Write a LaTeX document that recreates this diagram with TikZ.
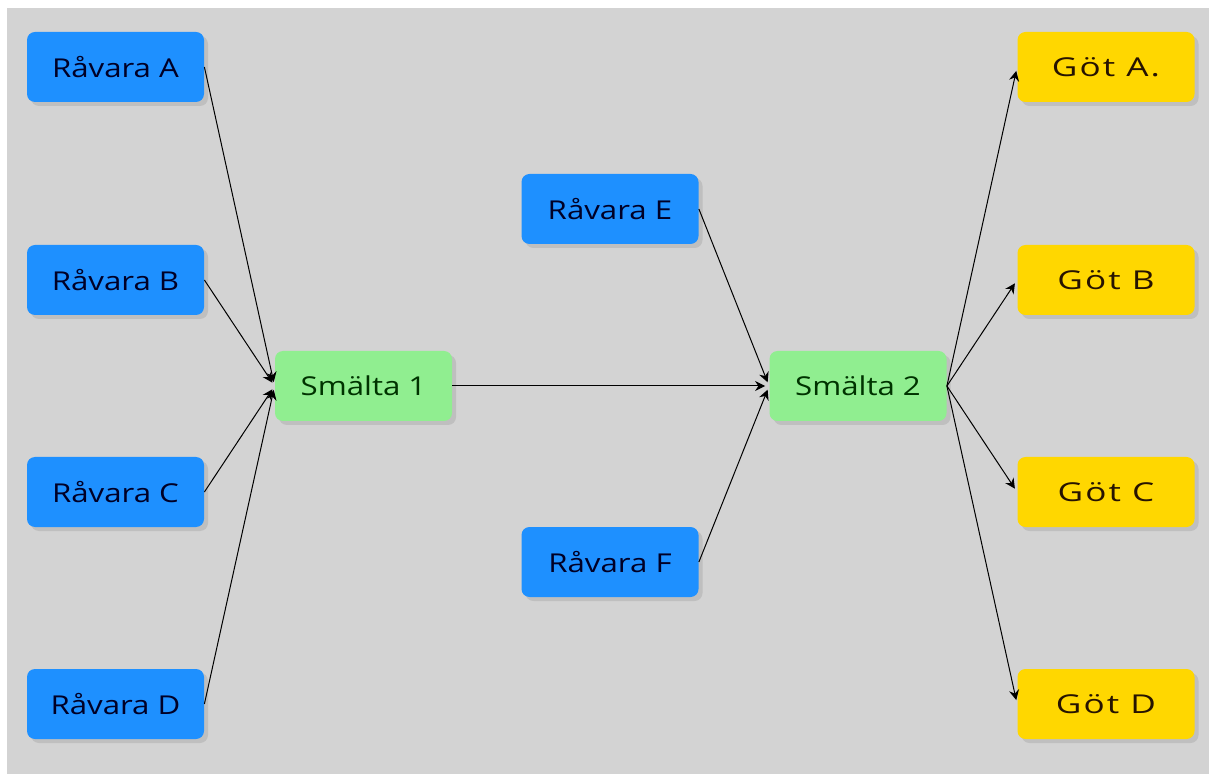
\documentclass[tikz,border=0pt]{standalone}
\usepackage{fontspec}
\setmainfont[FakeStretch=1.2]{Open Sans}
\newfontfamily\ingotfont[FakeStretch=1.35, LetterSpace=8]{Open Sans}
\usepackage{xcolor}
\definecolor{panelgray}{RGB}{211,211,211}
\definecolor{rawblue}{RGB}{30,144,255}
\definecolor{meltgreen}{RGB}{144,238,144}
\definecolor{ingotgold}{RGB}{255,215,0}
\usepackage{tikz}
\usetikzlibrary{shadows}
\usetikzlibrary{arrows.meta}
\newcommand{\widthbox}{88.5pt}
\newcommand{\heightbox}{35pt}
\tikzset{
    common/.style={rectangle, rounded corners=4pt, minimum width=\widthbox, minimum height=\heightbox,
        font=\fontsize{13}{15}\selectfont,
        drop shadow={shadow xshift=2pt, shadow yshift=-2pt, fill=black!25, opacity=1}},
    raw/.style={common, fill=rawblue, text=black!85!blue},
    melt/.style={common, fill=meltgreen, text=black!80!green},
    ingot/.style={common, fill=ingotgold, text=black!85!orange, font=\ingotfont\fontsize{13}{15}\selectfont},
    flow/.style={-{Stealth[length=5pt, width=5pt]}, line width=0.5pt, shorten >=2pt}
}

\begin{document}
\begin{tikzpicture}[x=0.5pt, y=-0.5pt]
    \useasboundingbox (0,0) rectangle (1209,774);
    \fill[panelgray] (7,8) rectangle (1209,774);

    % raw material
    \node[raw] (rawA) at (115.5,67) {Råvara A};
    \node[raw] (rawB) at (115.5,280) {Råvara B};
    \node[raw] (rawC) at (115.5,492) {Råvara C};
    \node[raw] (rawD) at (115.5,704) {Råvara D};
    \node[raw] (rawE) at (610,209) {Råvara E};
    \node[raw] (rawF) at (610,562) {Råvara F};

    % melts
    \node[melt] (melt1) at (363.5,386) {Smälta 1};
    \node[melt] (melt2) at (858,386) {Smälta 2};

    % ingots
    \node[ingot] (ingotA) at (1106,67) {Göt A.};
    \node[ingot] (ingotB) at (1106,280) {Göt B};
    \node[ingot] (ingotC) at (1106,492) {Göt C};
    \node[ingot] (ingotD) at (1106,704) {Göt D};

    \draw[flow] (rawA.east) -- (melt1.west);
    \draw[flow] (rawB.east) -- (melt1.west);
    \draw[flow] (rawC.east) -- (melt1.west);
    \draw[flow] (rawD.east) -- (melt1.west);

    \draw[flow] (melt1.east) -- (melt2.west);
    \draw[flow] (rawE.east) -- (melt2.west);
    \draw[flow] (rawF.east) -- (melt2.west);

    \draw[flow] (melt2.east) -- (ingotA.west);
    \draw[flow] (melt2.east) -- (ingotB.west);
    \draw[flow] (melt2.east) -- (ingotC.west);
    \draw[flow] (melt2.east) -- (ingotD.west);
\end{tikzpicture}
\end{document}
